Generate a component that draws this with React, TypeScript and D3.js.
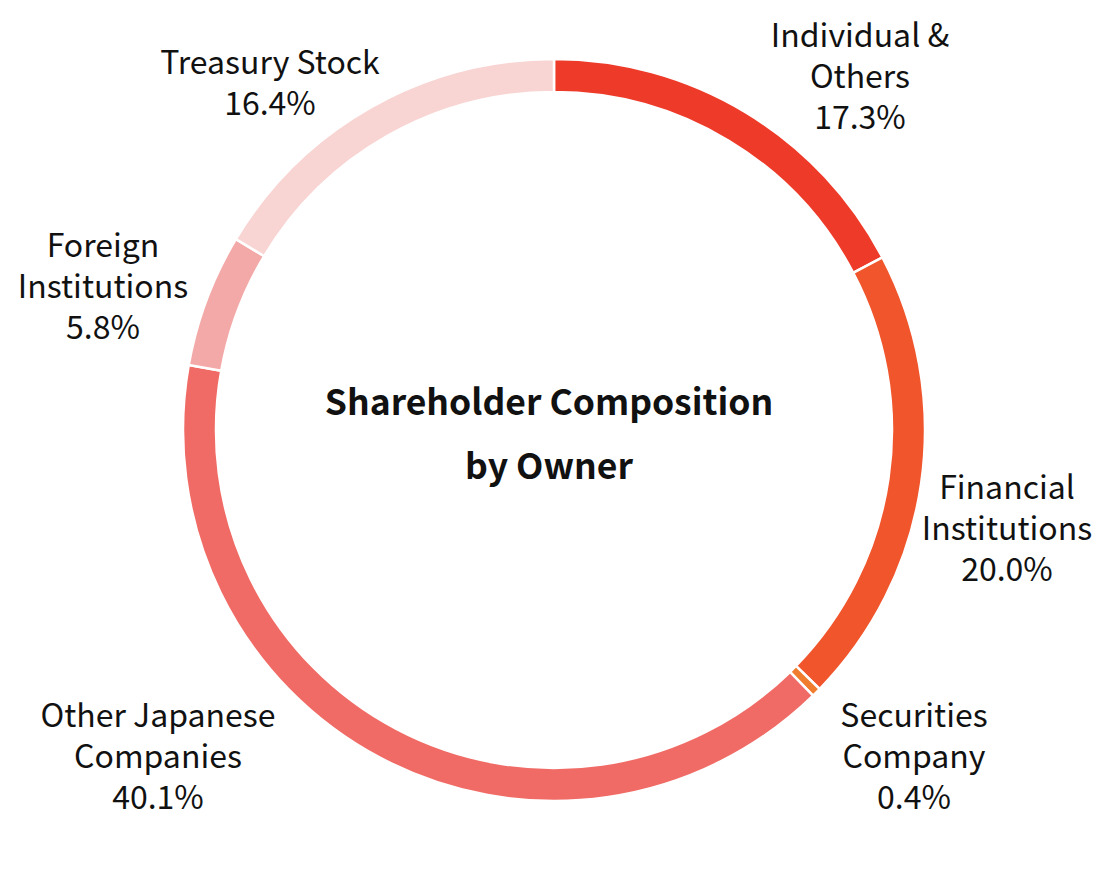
import * as d3 from "d3";

const categories = [
  "Individual & Others",
  "Financial Institutions",
  "Securities Company",
  "Other Japanese Companies",
  "Foreign Institutions",
  "Treasury Stock",
];
const shares = [17.3, 20.0, 0.4, 40.1, 5.8, 16.4];
const labelLines = [
  ["Individual &", "Others"],
  ["Financial", "Institutions"],
  ["Securities", "Company"],
  ["Other Japanese", "Companies"],
  ["Foreign", "Institutions"],
  ["Treasury Stock"],
];
const sliceColors = ["#ee3a29", "#f0552c", "#f07d2e", "#f06b65", "#f3a9a7", "#f8d5d3"];

// label anchor (centre x, first baseline y)
const labelPos: [number, number][] = [
  [860, 47],
  [1007, 499],
  [914, 727],
  [158, 727],
  [103, 257],
  [270, 74],
];

const width = 1100;
const height = 872;
const cx = 554;
const cy = 430;
const outerR = 371;
const innerR = 338;
const lineH = 41;
const font = "'Noto Sans CJK JP', 'Noto Sans', sans-serif";

export default function App() {
  const pie = d3
    .pie<number>()
    .sort(null)
    .value((d) => d);
  const arcs = pie(shares);
  const arc = d3.arc<d3.PieArcDatum<number>>().innerRadius(innerR).outerRadius(outerR);

  return (
    <svg
      width={width}
      height={height}
      viewBox={`0 0 ${width} ${height}`}
      style={{ position: "absolute", left: 0, top: 0, background: "#fff" }}
    >
      <g transform={`translate(${cx},${cy})`}>
        {arcs.map((a, i) => (
          <path
            key={categories[i]}
            d={arc(a) || ""}
            fill={sliceColors[i]}
            stroke="#fff"
            strokeWidth={2.5}
          />
        ))}
      </g>
      <g fontFamily={font} fontSize={32} fill="#111" textAnchor="middle">
        {categories.map((c, i) => {
          const [x, y] = labelPos[i];
          const lines = [...labelLines[i], shares[i].toFixed(1) + "%"];
          return lines.map((l, j) => (
            <text key={c + j} x={x} y={y + j * lineH}>
              {l}
            </text>
          ));
        })}
      </g>
      <g fontFamily={font} fontSize={35.5} fontWeight="bold" fill="#111" textAnchor="middle">
        <text x={549} y={415}>Shareholder Composition</text>
        <text x={549} y={479}>by Owner</text>
      </g>
    </svg>
  );
}
